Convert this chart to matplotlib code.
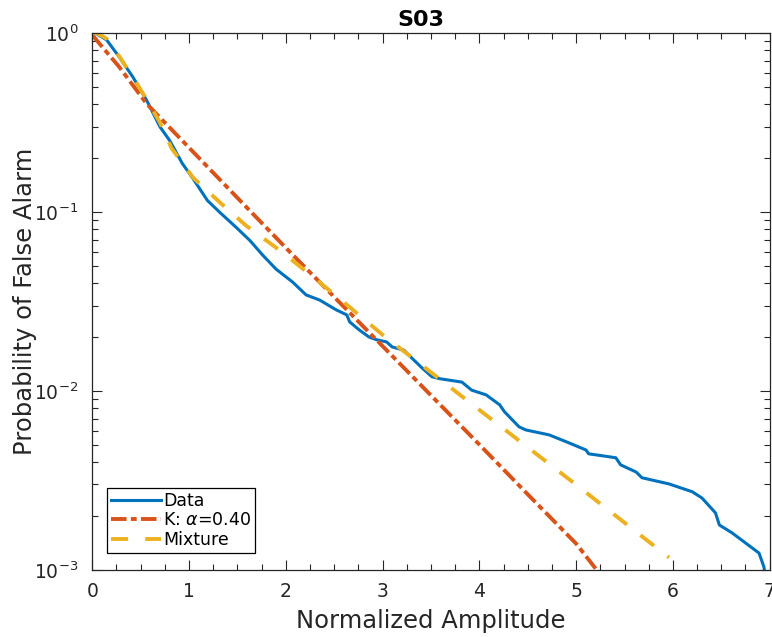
import matplotlib
matplotlib.use("Agg")
import matplotlib.pyplot as plt

data_x = [0.0, 0.05, 0.15, 0.28, 0.42, 0.56, 0.70, 0.80, 0.93, 1.04, 1.19, 1.32,
          1.49, 1.63, 1.76, 1.90, 2.07, 2.21, 2.35, 2.52, 2.63, 2.66, 2.76, 2.86,
          2.94, 3.04, 3.10, 3.22, 3.30, 3.41, 3.51, 3.59, 3.82, 3.92, 4.07, 4.21,
          4.26, 4.41, 4.48, 4.72, 4.90, 5.10, 5.13, 5.41, 5.46, 5.62, 5.68, 5.96,
          6.20, 6.30, 6.44, 6.48, 6.61, 6.89, 6.94, 6.96]
data_p = [1.0, 0.989, 0.914, 0.734, 0.568, 0.423, 0.299, 0.251, 0.187, 0.154, 0.116, 0.0993,
          0.0818, 0.0692, 0.0575, 0.0479, 0.0406, 0.0344, 0.0322, 0.0284, 0.0266, 0.0243, 0.0219, 0.0200,
          0.0193, 0.0188, 0.0176, 0.0169, 0.0153, 0.0134, 0.0120, 0.0117, 0.0112, 0.0101, 0.0095, 0.00836,
          0.00764, 0.00630, 0.00605, 0.00568, 0.00519, 0.00468, 0.00445, 0.00423, 0.00386, 0.00352, 0.00327, 0.00302,
          0.00273, 0.00252, 0.00208, 0.00178, 0.00161, 0.00124, 0.00104, 0.00089]

# K distribution fit
k_x = [0.0, 0.1, 0.28, 0.56, 1.0, 1.5, 2.0, 2.5, 3.0, 3.5, 4.0, 4.5, 5.0, 5.25]
k_p = [0.977, 0.841, 0.646, 0.404, 0.229, 0.120, 0.0631, 0.0335, 0.0178, 0.00944,
       0.00501, 0.00264, 0.00140, 0.00094]

# mixture fit
mix_x = [0.0, 0.05, 0.15, 0.28, 0.42, 0.56, 0.70, 0.82, 1.04, 1.32, 1.59, 1.90,
         2.0, 2.5, 3.0, 4.0, 5.0, 5.96]
mix_p = [1.0, 1.0, 0.93, 0.74, 0.569, 0.427, 0.316, 0.227, 0.156, 0.113, 0.0839, 0.0632,
         0.0575, 0.0347, 0.0206, 0.00783, 0.00299, 0.00117]

axcol = "#262626"
plt.rcParams["font.family"] = "DejaVu Sans"

fig = plt.figure(figsize=(7.72, 6.37), dpi=100)
ax = fig.add_axes([0.1195, 0.1055, 0.8775, 0.8425])

ax.plot(data_x, data_p, color="#0072BD", lw=2.2, label="Data")
ax.plot(k_x, k_p, color="#D95319", lw=2.8, dash_capstyle="butt",
        linestyle=(0, (4, 1.1, 1.5, 1.1)), label=r"K: $\alpha$=0.40")
ax.plot(mix_x, mix_p, color="#EDB120", lw=2.8, dash_capstyle="butt",
        linestyle=(0, (4.4, 4.4)), label="Mixture")

ax.set_yscale("log")
ax.set_xlim(0, 7)
ax.set_ylim(1e-3, 1)
ax.set_xticks(range(8))
ax.set_xticks([i * 0.25 for i in range(29)], minor=True)

ax.tick_params(which="both", direction="in", top=True, right=True,
               colors=axcol, labelsize=13.5, width=0.8)
ax.tick_params(which="major", length=7)
ax.tick_params(which="minor", length=4)
ax.tick_params(axis="x", which="major", pad=8.5)
ax.tick_params(axis="y", which="major", pad=10)
for s in ax.spines.values():
    s.set_color(axcol)
    s.set_linewidth(0.9)

ax.set_xlabel("Normalized Amplitude", fontsize=17.5, color=axcol, labelpad=6)
ax.set_ylabel("Probability of False Alarm", fontsize=17.5, color=axcol, labelpad=-2)
ax.set_title("S03", fontsize=16, fontweight="bold", pad=5, x=0.485)

leg = ax.legend(loc="lower left", bbox_to_anchor=(0.022, 0.032), fontsize=12.5,
                handlelength=2.9, handletextpad=0.1, labelspacing=0.08,
                borderaxespad=0, borderpad=0.22, fancybox=False, framealpha=1)
leg.get_frame().set_edgecolor("black")
leg.get_frame().set_linewidth(0.9)

fig.savefig("out.png", dpi=100)
